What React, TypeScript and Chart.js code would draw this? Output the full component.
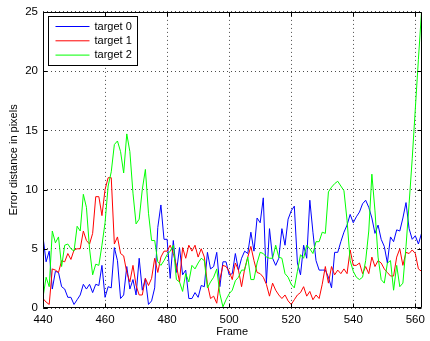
import React, { useEffect, useRef } from 'react';
import { Chart, registerables } from 'chart.js';

Chart.register(...registerables);

const startFrame = 440;
const xTicks = [440, 460, 480, 500, 520, 540, 560];
const yTicks = [0, 5, 10, 15, 20, 25];
const seriesLabels = ['target 0', 'target 1', 'target 2'];
const seriesColors = ['rgb(0,0,255)', 'rgb(255,0,0)', 'rgb(0,255,0)'];

// frames 440 .. 562
const target0 = [
  6.0, 3.9, 4.8, 1.6, 3.1, 3.0, 1.8, 1.6, 0.9, 0.9,
  0.3, 0.7, 1.1, 2.0, 1.6, 2.0, 1.3, 2.0, 1.9, 3.6,
  0.9, 1.8, 1.7, 5.1, 4.0, 0.8, 1.1, 3.5, 1.6, 2.4,
  1.1, 4.2, 1.5, 2.5, 0.3, 0.6, 1.7, 6.8, 8.7, 5.8,
  5.8, 2.5, 5.7, 3.0, 5.1, 2.8, 3.2, 0.8, 0.8, 1.3,
  0.9, 1.9, 1.8, 4.7, 3.3, 3.5, 4.7, 1.8, 3.9, 3.9,
  2.8, 2.9, 4.6, 3.2, 4.2, 4.8, 4.6, 6.4, 4.8, 7.6,
  7.2, 9.3, 2.1, 6.7, 4.2, 3.6, 4.2, 6.7, 5.3, 7.5,
  8.2, 8.6, 3.8, 2.8, 5.3, 4.2, 9.1, 6.4, 4.0, 3.2,
  3.2, 3.2, 2.6, 1.7, 4.7, 4.7, 5.6, 6.4, 7.0, 7.9,
  7.2, 7.7, 8.1, 8.8, 9.1, 8.5, 7.6, 6.3, 7.0, 5.8,
  5.2, 3.8, 6.0, 5.6, 6.6, 6.5, 7.6, 8.9, 6.7, 5.8,
  6.1, 5.4, 6.3,
];

const target1 = [
  0.8, 0.5, 0.3, 3.3, 3.2, 3.0, 4.0, 3.9, 4.6, 4.1,
  4.9, 5.0, 5.0, 6.5, 5.7, 5.4, 6.3, 9.4, 9.4, 7.8,
  10.0, 11.0, 11.0, 5.4, 6.0, 4.6, 4.4, 3.0, 2.2, 3.6,
  1.9, 1.1, 1.1, 2.5, 1.9, 2.5, 4.2, 3.0, 4.3, 4.8,
  4.8, 5.3, 4.6, 3.6, 2.2, 5.1, 4.2, 5.3, 4.8, 5.3,
  4.3, 5.0, 4.3, 2.0, 0.8, 1.0, 0.4, 2.4, 3.6, 3.5,
  3.1, 2.4, 3.8, 3.2, 1.8, 3.3, 4.3, 5.2, 4.0, 3.0,
  2.9, 2.6, 2.0, 1.0, 2.1, 1.5, 1.1, 0.8, 1.1, 0.6,
  0.3, 0.7, 1.1, 1.3, 1.8, 1.0, 1.4, 0.7, 1.1, 0.8,
  2.0, 3.5, 2.1, 3.5, 2.8, 3.2, 2.9, 3.3, 2.9, 4.9,
  3.6, 3.6, 3.8, 2.9, 3.5, 2.9, 4.3, 3.5, 4.0, 3.8,
  3.3, 3.0, 2.7, 2.7, 4.3, 5.0, 3.6, 4.7, 4.6, 4.9,
  4.6, 3.3, 3.1,
];

const target2 = [
  0.9, 2.6, 1.8, 6.5, 5.5, 6.0, 3.5, 5.3, 5.4, 5.0,
  4.8, 6.9, 6.5, 9.6, 8.5, 5.0, 2.8, 3.7, 3.6, 5.3,
  7.2, 10.3, 11.5, 13.8, 14.1, 13.2, 11.4, 14.7, 13.2, 9.7,
  7.1, 7.5, 10.0, 11.7, 8.0, 5.7, 5.7, 3.9, 3.6, 4.0,
  4.5, 4.8, 5.3, 2.4, 2.2, 1.4, 2.9, 2.2, 3.6, 3.3,
  3.8, 4.2, 4.0, 1.7, 2.2, 2.6, 3.3, 1.2, 0.1, 0.7,
  1.2, 1.5, 2.3, 2.6, 3.2, 3.2, 4.3, 2.4, 2.4, 3.8,
  4.7, 4.6, 4.3, 4.2, 4.2, 5.3, 4.3, 4.2, 2.9, 2.6,
  2.0, 1.7, 3.1, 4.5, 4.2, 5.3, 5.0, 4.6, 5.6, 5.6,
  6.4, 6.3, 9.8, 10.2, 10.5, 10.7, 10.3, 9.9, 7.4, 4.0,
  3.1, 2.6, 2.4, 2.6, 4.0, 6.5, 11.3, 8.2, 4.3, 2.4,
  2.1, 3.8, 4.0, 1.5, 3.6, 1.8, 2.1, 5.2, 8.8, 12.6,
  16.8, 21.0, 25.0,
];

const seriesValues = [target0, target1, target2];

const FONT = '"Liberation Sans", Arial, Helvetica, sans-serif';

const matlabFrame = {
  id: 'matlabFrame',
  afterDraw(chart: any) {
    const { ctx, chartArea, scales } = chart;
    const { left, top, right, bottom } = chartArea;
    const xs = scales.x;
    const ys = scales.y;
    ctx.save();
    ctx.strokeStyle = '#000';
    ctx.lineWidth = 1;
    ctx.setLineDash([]);
    const L = Math.round(left) + 0.5;
    const R = Math.round(right) - 0.5;
    const T = Math.round(top) + 0.5;
    const B = Math.round(bottom) - 0.5;
    ctx.beginPath();
    ctx.rect(L, T, R - L, B - T);
    ctx.stroke();
    const tl = 4;
    ctx.beginPath();
    xTicks.forEach((v) => {
      const px = Math.round(xs.getPixelForValue(v)) + 0.5;
      ctx.moveTo(px, B);
      ctx.lineTo(px, B - tl);
      ctx.moveTo(px, T);
      ctx.lineTo(px, T + tl);
    });
    yTicks.forEach((v) => {
      const py = Math.round(ys.getPixelForValue(v)) + 0.5;
      ctx.moveTo(L, py);
      ctx.lineTo(L + tl, py);
      ctx.moveTo(R, py);
      ctx.lineTo(R - tl, py);
    });
    ctx.stroke();

    // legend box
    const bx = L + 5;
    const by = T + 4;
    const rowH = 14.3;
    const bw = 89;
    const bh = 49;
    ctx.fillStyle = '#fff';
    ctx.fillRect(bx, by, bw, bh);
    ctx.lineWidth = 1;
    ctx.strokeStyle = '#000';
    ctx.strokeRect(bx, by, bw, bh);
    ctx.font = '11px ' + FONT;
    ctx.textBaseline = 'middle';
    ctx.textAlign = 'left';
    chart.data.datasets.forEach((ds: any, i: number) => {
      const yy = by + 10 + i * rowH;
      ctx.strokeStyle = ds.borderColor;
      ctx.beginPath();
      ctx.moveTo(bx + 7, yy);
      ctx.lineTo(bx + 41, yy);
      ctx.stroke();
      ctx.fillStyle = '#000';
      ctx.fillText(ds.label, bx + 46, yy);
    });
    ctx.restore();
  },
};

export default function App() {
  const ref = useRef<HTMLCanvasElement | null>(null);
  useEffect(() => {
    document.body.style.margin = '0';
    const canvas = ref.current;
    if (!canvas) return;
    const datasets = seriesValues.map((vals, i) => ({
      label: seriesLabels[i],
      data: vals.map((v, j) => ({ x: startFrame + j, y: v })),
      borderColor: seriesColors[i],
      backgroundColor: seriesColors[i],
      borderWidth: 1,
      pointRadius: 0,
      tension: 0,
      fill: false,
      order: 2 - i,
    }));
    const gridCommon = {
      color: 'rgba(0,0,0,0.7)',
      lineWidth: 1,
      drawTicks: false,
    };
    const chart = new Chart(canvas, {
      type: 'line',
      data: { datasets },
      plugins: [matlabFrame],
      options: {
        responsive: false,
        animation: false,
        devicePixelRatio: 1,
        layout: { padding: { top: 9, right: 6, left: 0, bottom: 0 } },
        plugins: { legend: { display: false }, tooltip: { enabled: false } },
        scales: {
          x: {
            type: 'linear',
            min: 440,
            max: 562,
            afterFit: (s: any) => { s.height = 33; },
            afterBuildTicks: (s: any) => { s.ticks = xTicks.map((v) => ({ value: v })); },
            grid: gridCommon,
            border: { display: false, dash: [1, 3] },
            ticks: {
              includeBounds: false,
              stepSize: 20,
              padding: 5,
              color: '#000',
              font: { family: FONT, size: 11.5 },
              maxRotation: 0,
              autoSkip: false,
            },
            title: {
              display: true,
              text: 'Frame',
              color: '#000',
              font: { family: FONT, size: 11 },
              padding: { top: 0, bottom: 2 },
            },
          },
          y: {
            type: 'linear',
            min: 0,
            max: 25,
            afterFit: (s: any) => { s.width = 43; },
            afterBuildTicks: (s: any) => { s.ticks = yTicks.map((v) => ({ value: v })); },
            grid: gridCommon,
            border: { display: false, dash: [1, 3] },
            ticks: {
              stepSize: 5,
              padding: 5,
              color: '#000',
              font: { family: FONT, size: 11.5 },
            },
            title: {
              display: true,
              text: 'Error distance in pixels',
              color: '#000',
              font: { family: FONT, size: 11 },
              padding: { top: 7, bottom: 0 },
            },
          },
        },
      },
    });
    return () => chart.destroy();
  }, []);
  return (
    <div style={{ width: 430, height: 341 }}>
      <canvas ref={ref} width={430} height={341} style={{ display: 'block', width: 430, height: 341 }} />
    </div>
  );
}
